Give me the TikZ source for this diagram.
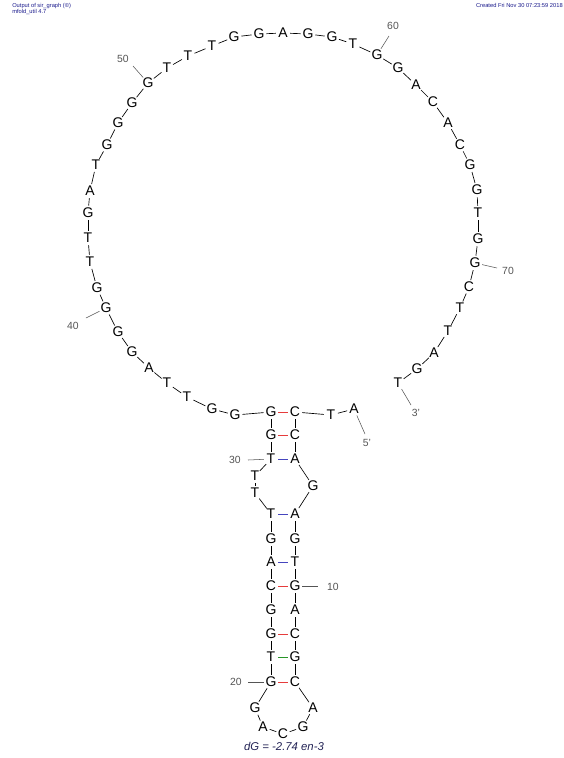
\documentclass[tikz,border=0pt]{standalone}
\usepackage{fontspec}
\setmainfont{Liberation Sans}
\definecolor{hdr}{RGB}{25,25,140}
\definecolor{lab}{RGB}{85,85,85}
\definecolor{pr}{RGB}{230,60,60}
\definecolor{pb}{RGB}{70,70,190}
\definecolor{pg}{RGB}{40,150,40}
\definecolor{dgc}{RGB}{35,35,85}
\tikzset{
  nt/.style={circle,inner sep=0pt,outer sep=0pt,minimum size=10.6pt,font=\fontsize{10.5}{12}\selectfont},
  bb/.style={line width=0.5pt,black},
  pairr/.style={line width=0.6pt,pr},
  pairb/.style={line width=0.6pt,pb},
  pairg/.style={line width=0.6pt,pg},
  tick/.style={line width=0.4pt,lab},
  numlab/.style={inner sep=0pt,text=lab,font=\fontsize{7.8}{9}\selectfont},
  hdrtxt/.style={inner sep=0pt,text=hdr,font=\fontsize{4.3}{5}\selectfont},
}
\begin{document}
\begin{tikzpicture}[x=0.75pt,y=-0.75pt]
\useasboundingbox (0,0) rectangle (564,758);
\fill[white] (0,0) rectangle (564,758);
% header
\node[hdrtxt,anchor=base west] (h1) at (12,7.5) {Output of sir\_graph (©)};
\node[hdrtxt,anchor=base west] (h2) at (12,13.5) {mfold\_util 4.7};
\node[hdrtxt,anchor=base east] (h3) at (563,7.5) {Created Fri Nov 30 07:23:59 2018};
% nucleotides
\foreach \i/\b/\x/\y in {
1/A/354/409, 2/T/331/415, 3/C/295/412, 4/C/295/435, 5/A/295/459,
6/G/313/486, 7/A/295/514, 8/G/295/539, 9/T/295/562, 10/G/295/586,
11/A/295/610, 12/C/295/634, 13/G/295/657, 14/C/295/682, 15/A/313/708,
16/G/303/727, 17/C/283/734, 18/A/263/727, 19/G/255/708, 20/G/271/682,
21/T/271/657, 22/G/271/634, 23/G/271/610, 24/C/271/586, 25/A/271/562,
26/G/271/539, 27/T/271/514, 28/T/255/493, 29/T/255/476, 30/T/271/459,
31/G/271/435, 32/G/271/412, 33/G/235/415, 34/G/212/409, 35/T/187/397,
36/T/167/383, 37/A/149/368, 38/G/132/352, 39/G/118/332, 40/G/106/308,
41/G/97/288, 42/T/90/262, 43/T/88/238, 44/G/88/213, 45/A/90/191,
46/T/96/165, 47/G/107/145, 48/G/118/123, 49/G/132/103, 50/G/148/83,
51/T/167/68, 52/T/188/56, 53/T/212/46, 54/G/234/37, 55/G/259/34,
56/A/283/33, 57/G/308/34, 58/G/332/37, 59/T/353/44, 60/G/377/55,
61/G/398/68, 62/A/416/85, 63/C/433/102, 64/A/448/123, 65/C/460/145,
66/G/470/165, 67/G/477/190, 68/T/478/213, 69/G/478/239, 70/G/475/263,
71/C/469/287, 72/T/460/308, 73/T/448/331, 74/A/434/353, 75/G/417/369,
76/T/398/383}
  \node[nt] (n\i) at (\x,\y) {\b};
% backbone
\foreach \i [evaluate=\i as \j using int(\i+1)] in {1,...,75}
  \draw[bb] (n\i) -- (n\j);
% base pairs
\draw[pairr] (n3) -- (n32);
\draw[pairr] (n4) -- (n31);
\draw[pairb] (n5) -- (n30);
\draw[pairb] (n7) -- (n27);
\draw[pairb] (n9) -- (n25);
\draw[pairr] (n10) -- (n24);
\draw[pairr] (n12) -- (n22);
\draw[pairg] (n13) -- (n21);
\draw[pairr] (n14) -- (n20);
% position labels
\coordinate (t1) at (365,434);
\coordinate (t76) at (411,405);
\coordinate (t10) at (318,586);
\coordinate (t20) at (248,682);
\coordinate (t30) at (248,460);
\coordinate (t40) at (86,318);
\coordinate (t50) at (133,66);
\coordinate (t60) at (389,36);
\coordinate (t70) at (497,268);
\foreach \k in {1,76,10,20,30,40,50,60,70}
  \draw[tick] (n\k) -- (t\k);
\node[numlab] (l1) at (367,443) {5'};
\node[numlab] (l76) at (416,413) {3'};
\node[numlab] (l10) at (333,587) {10};
\node[numlab] (l20) at (236,682) {20};
\node[numlab] (l30) at (235,460) {30};
\node[numlab] (l40) at (73,326) {40};
\node[numlab] (l50) at (123,59) {50};
\node[numlab] (l60) at (393,26) {60};
\node[numlab] (l70) at (508,271) {70};
% energy
\node[inner sep=0pt,anchor=base,text=dgc,font=\fontsize{8.5}{10}\selectfont\itshape] (dg) at (284,750.5) {dG = -2.74 en-3};
\end{tikzpicture}
\end{document}
